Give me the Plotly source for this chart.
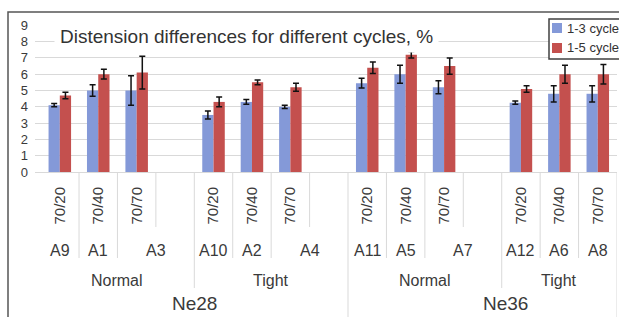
import plotly.graph_objects as go

# ---- data ----
ratio  = ["70/20", "70/40", "70/70", "", "70/20", "70/40", "70/70", "",
          "70/20", "70/40", "70/70", "", "70/20", "70/40", "70/70"]
sample = ["A9", "A1", "A3", "", "A10", "A2", "A4", "",
          "A11", "A5", "A7", "", "A12", "A6", "A8"]
fit    = ["Normal", "", "", "", "Tight", "", "", "",
          "Normal", "", "", "", "Tight", "", ""]
yarn   = ["Ne28", "", "", "", "", "", "", "",
          "Ne36", "", "", "", "", "", ""]

cyc13 = [4.1, 5.0, 5.0, None, 3.5, 4.3, 4.0, None, 5.45, 6.0, 5.2, None, 4.25, 4.8, 4.8]
err13 = [0.1, 0.35, 0.9, None, 0.25, 0.15, 0.1, None, 0.3, 0.55, 0.4, None, 0.1, 0.5, 0.5]
cyc15 = [4.7, 6.0, 6.1, None, 4.3, 5.5, 5.2, None, 6.4, 7.2, 6.5, None, 5.1, 6.0, 6.0]
err15 = [0.2, 0.3, 1.0, None, 0.3, 0.15, 0.25, None, 0.35, 0.2, 0.5, None, 0.2, 0.55, 0.6]

series_names = ["1-3 cycle", "1-5 cycle"]
series_colors = ["#8499d8", "#c4504e"]
yticks = list(range(0, 10))
title_text = "Distension differences for different cycles, %"

# ---- layout helpers (pixel -> paper) ----
W, H = 619, 317
L, R, T, B = 35, 2, 25, 145
PW, PH = W - L - R, H - T - B
FONT = "Liberation Sans, Arial, sans-serif"
TXT = "#3a3a3a"
GRID = "#d9d9d9"


def px_x(px):
    return (px - L) / PW


def px_y(py):
    return (H - B - py) / PH


x = list(range(len(ratio)))

fig = go.Figure()
for vals, errs, name, col in zip([cyc13, cyc15], [err13, err15], series_names, series_colors):
    fig.add_trace(go.Bar(
        x=x, y=vals, name=name, marker_color=col, marker_line_width=0,
        error_y=dict(type="data", array=errs, visible=True, color="#111111",
                     thickness=1.5, width=3),
        showlegend=False,
    ))


def spans(labels):
    starts = [i for i, s in enumerate(labels) if s]
    out = []
    for j, s in enumerate(starts):
        e = starts[j + 1] if j + 1 < len(starts) else len(labels)
        out.append((labels[s], s, e))
    return out


annotations = []
shapes = []

# level labels
level_rows = [(sample, 250, 16), (fit, 280, 16), (yarn, 303, 19)]
nudge = {"Ne36": 0.6}
for labels, py, fs in level_rows:
    for text, s, e in spans(labels):
        annotations.append(dict(
            x=(s + e - 1) / 2 + nudge.get(text, 0), y=px_y(py), xref="x", yref="paper",
            text=text, showarrow=False, xanchor="center", yanchor="middle",
            font=dict(family=FONT, size=fs, color=TXT)))

# separator lines of the multi-level category axis
depth = {"ratio": 227, "sample": 258, "fit": 288, "yarn": 330}
n = len(ratio)
for k in range(1, n + 1):
    if k == n or yarn[k]:
        d = depth["yarn"]
    elif fit[k]:
        d = depth["fit"]
    elif sample[k]:
        d = depth["sample"]
    else:
        d = depth["ratio"]
    shapes.append(dict(type="line", xref="x", yref="paper", x0=k - 0.5, x1=k - 0.5,
                       y0=0, y1=px_y(d), line=dict(color=GRID, width=1)))

# title with white backing
annotations.append(dict(
    x=px_x(246), y=px_y(36), xref="paper", yref="paper", text=title_text,
    showarrow=False, xanchor="center", yanchor="middle", bgcolor="white", borderpad=5,
    font=dict(family=FONT, size=19, color="#333333")))

# manual legend
shapes.append(dict(type="rect", xref="paper", yref="paper",
                   x0=px_x(549), x1=px_x(660), y0=px_y(19), y1=px_y(59),
                   fillcolor="white", line=dict(color="#404040", width=1.5), layer="above"))
for i, (name, col) in enumerate(zip(series_names, series_colors)):
    cy = 28 + 20 * i
    shapes.append(dict(type="rect", xref="paper", yref="paper",
                       x0=px_x(552), x1=px_x(562), y0=px_y(cy - 5), y1=px_y(cy + 5),
                       fillcolor=col, line=dict(width=0), layer="above"))
    annotations.append(dict(
        x=px_x(565), y=px_y(cy), xref="paper", yref="paper", text=name,
        showarrow=False, xanchor="left", yanchor="middle",
        font=dict(family=FONT, size=13, color="#333333")))

# outer chart border
shapes.append(dict(type="rect", xref="paper", yref="paper",
                   x0=px_x(8), x1=px_x(700), y0=px_y(12), y1=px_y(400),
                   line=dict(color="#555555", width=1.5), layer="above"))

fig.update_layout(
    width=W, height=H,
    margin=dict(l=L, r=R, t=T, b=B, autoexpand=False),
    paper_bgcolor="white", plot_bgcolor="white",
    barmode="group", bargap=0.414, bargroupgap=0,
    font=dict(family=FONT, color=TXT),
    annotations=annotations, shapes=shapes,
    showlegend=False,
)
fig.update_xaxes(
    range=[-0.6457, n - 0.5], tickmode="array",
    tickvals=[i for i, r in enumerate(ratio) if r],
    ticktext=[r for r in ratio if r],
    tickangle=-90, tickfont=dict(family=FONT, size=15, color=TXT),
    ticks="", showgrid=False, zeroline=False, showline=False,
    ticklabelstandoff=11,
)
fig.update_yaxes(
    range=[0, 9.02], tickmode="array", tickvals=yticks,
    tickfont=dict(family=FONT, size=13, color=TXT),
    showgrid=True, gridcolor=GRID, gridwidth=1,
    zeroline=True, zerolinecolor=GRID, zerolinewidth=1,
    showline=False, ticks="", ticklabelstandoff=6,
)

fig.write_html(
    "out.html",
    config={"displayModeBar": False},
    post_script="document.body.style.margin='0';document.body.style.overflow='hidden';",
)
